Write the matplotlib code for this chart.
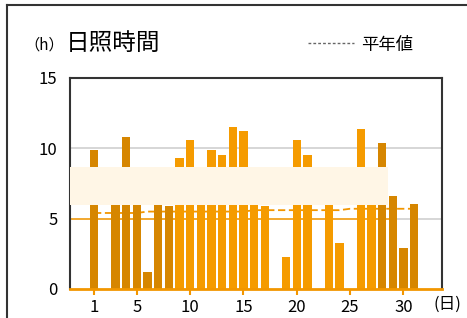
import matplotlib.pyplot as plt
from matplotlib.lines import Line2D

plt.rcParams['font.family'] = ['Noto Sans CJK JP', 'DejaVu Sans']

days = list(range(1, 32))
# daily sunshine hours
sunshine = [9.9, 0.0, 7.5, 10.8, 7.0, 1.2, 8.0, 5.9, 9.3, 10.6,
            7.0, 9.9, 9.5, 11.5, 11.2, 7.5, 5.9, 0.0, 2.3, 10.6,
            9.55, 0.0, 7.0, 3.3, 0.0, 11.4, 7.5, 10.35, 6.6, 2.9, 6.05]
# normal values (平年値)
normal = [5.4, 5.4, 5.4, 5.4, 5.4, 5.5, 5.5, 5.5, 5.5, 5.5,
          5.5, 5.5, 5.5, 5.5, 5.5, 5.6, 5.6, 5.6, 5.6, 5.6,
          5.6, 5.6, 5.6, 5.6, 5.7, 5.7, 5.7, 5.7, 5.7, 5.7, 5.7]
xticks = [1, 5, 10, 15, 20, 25, 30]
yticks = [0, 5, 10, 15]

dark = '#d68600'
bright = '#f59b00'
colors = [dark if (d <= 8 or d >= 28) else bright for d in days]

fig = plt.figure(figsize=(4.67, 3.18), dpi=100)
ax = fig.add_axes([0.150, 0.0912, 0.796, 0.664])

ax.axhline(5, color='#d0d0d0', lw=1.2, zorder=1)
ax.axhline(10, color='#d0d0d0', lw=1.2, zorder=1)
ax.plot([-1.25, 29.0], [5, 5], color='#f5a623', lw=1.3, zorder=1.2)
ax.plot(days, normal, color='#f29600', lw=1.3, ls=(0, (4, 2)), zorder=1.5)
ax.bar(days, sunshine, width=0.78, color=colors, zorder=2)

# pale band over the middle of the bars
ax.fill_between([-1.25, 28.55], 6.0, 8.65, color='#fff6e6', lw=0, zorder=3)

ax.set_xlim(-1.25, 33.6)
ax.set_ylim(0, 15)
ax.set_xticks(xticks)
ax.set_yticks(yticks)
ax.tick_params(axis='y', length=0, pad=9, labelsize=12)
ax.tick_params(axis='x', length=4, width=1.5, color='#f29600', pad=3, labelsize=12)

for s in ['top', 'left', 'right']:
    ax.spines[s].set_color('#333333')
    ax.spines[s].set_linewidth(1.5)
ax.spines['bottom'].set_color('#f29600')
ax.spines['bottom'].set_linewidth(2)

# titles and legend
fig.text(24 / 467, 1 - 45 / 318, '（h）', fontsize=11, va='center', ha='left')
fig.text(66 / 467, 1 - 43 / 318, '日照時間', fontsize=17, va='center', ha='left')
fig.add_artist(Line2D([308 / 467, 354 / 467], [1 - 43 / 318] * 2,
                      color='#666666', lw=1, ls=(0, (2, 1.5))))
fig.text(361 / 467, 1 - 45 / 318, '平年値', fontsize=12.5, va='center', ha='left')
fig.text(447 / 467, 1 - 304 / 318, '(日)', fontsize=12, va='center', ha='center')

# panel border
fig.add_artist(Line2D([7 / 467, 1], [1 - 5 / 318] * 2, color='#333333', lw=1.5))
fig.add_artist(Line2D([7 / 467] * 2, [0, 1 - 5 / 318], color='#333333', lw=1.5))

fig.savefig('out.png', dpi=100)
